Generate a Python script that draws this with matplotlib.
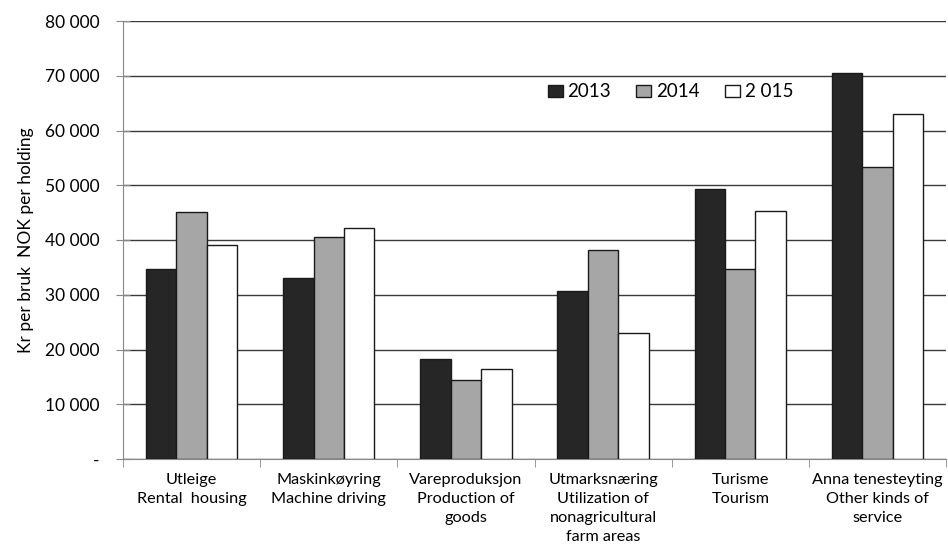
import numpy as np
import matplotlib.pyplot as plt
from matplotlib.ticker import FuncFormatter

# Data
categories = ["Utleige\nRental  housing",
              "Maskinkøyring\nMachine driving",
              "Vareproduksjon\nProduction of\ngoods",
              "Utmarksnæring\nUtilization of\nnonagricultural\nfarm areas",
              "Turisme\nTourism",
              "Anna tenesteyting\nOther kinds of\nservice"]
series_names = ["2013", "2014", "2 015"]
v2013 = [34650, 33000, 18300, 30600, 49400, 70450]
v2014 = [45170, 40600, 14500, 38100, 34750, 53300]
v2015 = [39090, 42250, 16400, 23100, 45300, 63070]

plt.rcParams['font.family'] = ['Lato', 'DejaVu Sans']

fig = plt.figure(figsize=(9.48, 5.51), dpi=100)
ax = fig.add_axes([123 / 948, 1 - 459 / 551, (946 - 123) / 948, (459 - 21) / 551])

x = np.arange(len(categories))
w = 0.222
colors = ["#262626", "#a6a6a6", "#ffffff"]
for i, (vals, c, name) in enumerate(zip([v2013, v2014, v2015], colors, series_names)):
    ax.bar(x + (i - 1) * w, vals, w, color=c, edgecolor="#1a1a1a", linewidth=1.0,
           label=name, zorder=3)

# Axes
ax.set_xlim(-0.5, len(categories) - 0.5)
ax.set_ylim(0, 80000)
ax.set_yticks(np.arange(0, 80001, 10000))
ax.yaxis.set_major_formatter(FuncFormatter(
    lambda v, p: "-" if v == 0 else f"{int(v):,}".replace(",", " ")))
ax.grid(axis="y", color="#3a3a3a", linewidth=1.0, zorder=0)
ax.set_xticks(x)
ax.set_xticklabels(categories, fontsize=11.7, linespacing=1.45)
ax.set_xticks(np.arange(-0.5, len(categories)), minor=True)
ax.tick_params(axis="x", which="major", length=0, pad=10)
ax.tick_params(axis="x", which="minor", length=6, color="#888888", direction="out")
ax.tick_params(axis="y", labelsize=12.5, length=10, direction="inout",
               color="#888888", pad=12)

for s in ["top", "right"]:
    ax.spines[s].set_visible(False)
ax.spines["left"].set_color("#888888")
ax.spines["bottom"].set_color("#888888")

ax.set_ylabel("Kr per bruk  NOK per holding", fontsize=12.5, labelpad=8)

ax.legend(loc="center left", bbox_to_anchor=(0.516, 0.838), ncol=3, frameon=False,
          fontsize=13.5, handlelength=0.8, handleheight=0.65, handletextpad=0.25,
          columnspacing=1.35, borderaxespad=0, borderpad=0)

plt.savefig("out.png", dpi=100)
